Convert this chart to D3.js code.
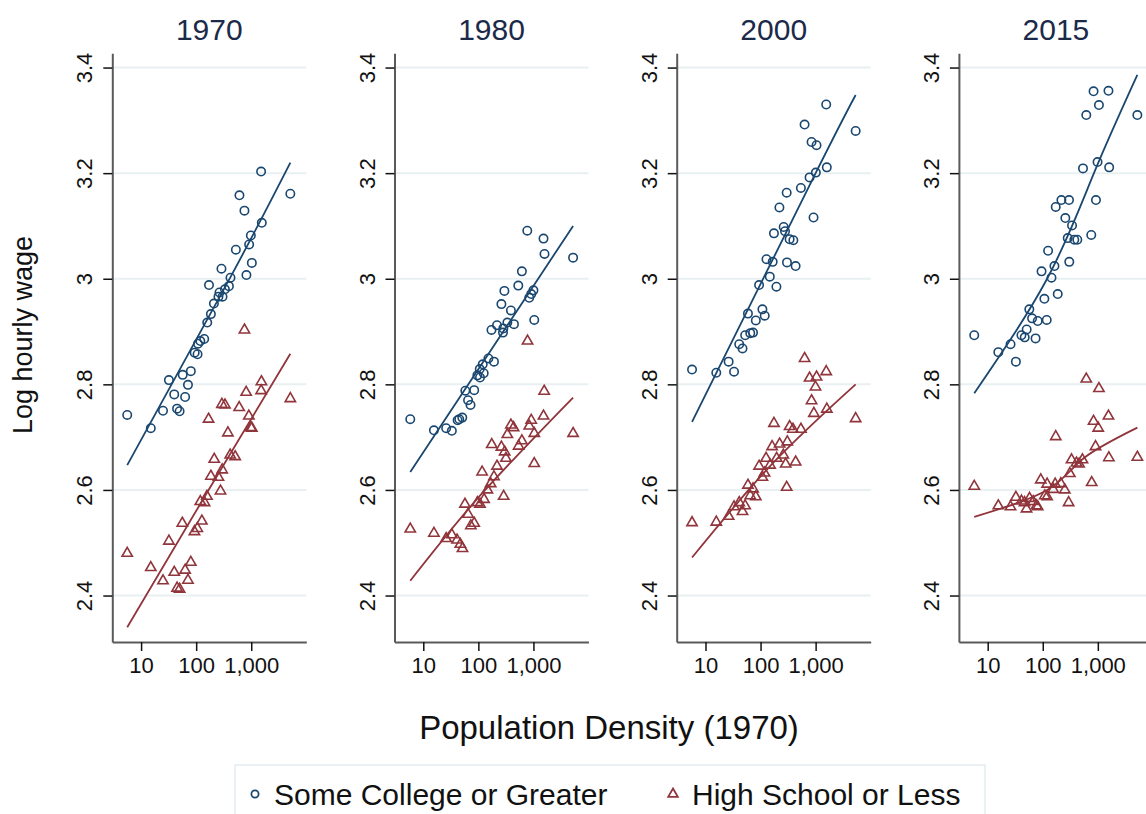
<!DOCTYPE html>
<html>
<head>
<meta charset="utf-8">
<script src="https://cdn.jsdelivr.net/npm/d3@7"></script>
<style>
  body { margin: 0; background: #fff; }
  svg { display: block; }
  text { font-family: "Liberation Sans", Arial, sans-serif; }
</style>
</head>
<body>
<svg id="chart" width="1146" height="814"></svg>
<script>
// Panel years
const years = ["1970", "1980", "2000", "2015"];

// [population density 1970, log hourly wage]
const college1970 = [[1511,3.203],[5130,3.161],[611,3.158],[753,3.129],[1556,3.106],[984,3.082],[916,3.065],[526,3.055],[1026,3.030],[818,3.007],[288,3.019],[420,3.002],[393,2.986],[171,2.988],[333,2.980],[265,2.974],[301,2.966],[254,2.966],[210,2.953],[185,2.933],[159,2.917],[140,2.886],[119,2.882],[108,2.877],[94,2.860],[106,2.857],[80,2.825],[57,2.818],[32,2.808],[71,2.799],[40,2.781],[63,2.776],[5.6,2.742],[25,2.750],[45,2.754],[50,2.749],[15,2.717]];
const hs1970 = [[1530,2.805],[809,2.785],[1511,2.788],[5130,2.773],[293,2.762],[333,2.761],[604,2.756],[168,2.734],[905,2.740],[753,2.903],[984,2.718],[1026,2.717],[377,2.708],[415,2.666],[511,2.663],[213,2.658],[297,2.638],[185,2.626],[254,2.624],[277,2.598],[157,2.588],[119,2.578],[142,2.576],[127,2.541],[56,2.537],[105,2.527],[93,2.521],[32,2.503],[5.6,2.480],[15,2.453],[80,2.463],[40,2.444],[63,2.448],[25,2.428],[71,2.429],[45,2.414],[50,2.412]];

const college1980 = [[773,3.091],[1524,3.076],[1589,3.047],[5250,3.040],[617,3.014],[531,2.987],[297,2.977],[1000,2.978],[912,2.971],[839,2.964],[262,2.952],[390,2.940],[336,2.917],[443,2.914],[218,2.912],[1035,2.922],[284,2.906],[280,2.898],[173,2.903],[152,2.849],[192,2.843],[120,2.838],[106,2.829],[125,2.821],[96,2.817],[107,2.813],[58,2.788],[84,2.789],[65,2.770],[72,2.761],[51,2.737],[45,2.734],[42,2.732],[5.8,2.734],[15.6,2.713],[26,2.717],[33,2.712]];
const hs1980 = [[782,2.882],[1567,2.787],[1524,2.740],[912,2.732],[839,2.721],[5250,2.707],[390,2.723],[436,2.718],[336,2.705],[1035,2.707],[617,2.693],[538,2.683],[175,2.686],[262,2.681],[300,2.672],[317,2.660],[1035,2.650],[218,2.645],[117,2.634],[192,2.625],[167,2.612],[146,2.600],[288,2.588],[127,2.582],[96,2.576],[107,2.573],[57,2.573],[65,2.554],[84,2.537],[73,2.532],[5.8,2.526],[15.6,2.518],[26,2.508],[33,2.515],[41,2.505],[47,2.497],[51.5,2.489]];

const college2000 = [[1556,3.330],[5330,3.280],[630,3.292],[843,3.259],[1038,3.253],[1596,3.211],[1009,3.201],[776,3.192],[540,3.172],[298,3.163],[220,3.135],[916,3.116],[263,3.098],[278,3.090],[175,3.086],[337,3.075],[394,3.073],[128,3.037],[166,3.032],[302,3.031],[433,3.024],[147,3.004],[94,2.988],[194,2.985],[59,2.934],[108,2.942],[119,2.930],[82,2.921],[73,2.898],[65,2.897],[52.5,2.893],[41,2.876],[47,2.868],[5.7,2.828],[15.7,2.822],[26.3,2.843],[33,2.824]];
const hs2000 = [[630,2.849],[1556,2.824],[776,2.812],[1038,2.814],[995,2.795],[843,2.769],[929,2.745],[1596,2.753],[5330,2.735],[175,2.726],[337,2.720],[387,2.715],[540,2.715],[306,2.691],[222,2.687],[162,2.682],[259,2.666],[126,2.660],[196,2.660],[433,2.653],[286,2.649],[94,2.645],[149,2.647],[118,2.632],[108,2.624],[298,2.605],[59,2.609],[73,2.602],[65,2.589],[82,2.587],[41,2.576],[52.5,2.570],[33,2.568],[47,2.559],[26.3,2.550],[15.7,2.539],[5.7,2.538]];

const college2015 = [[836,3.355],[1560,3.356],[1047,3.329],[617,3.310],[5220,3.310],[988,3.221],[1607,3.211],[538,3.209],[218,3.149],[300,3.149],[172,3.136],[925,3.149],[257,3.115],[340,3.101],[284,3.077],[374,3.074],[424,3.074],[760,3.083],[125,3.053],[163,3.024],[303,3.032],[95,3.014],[144,3.002],[107,2.962],[187,2.971],[57,2.942],[64,2.925],[81,2.920],[118,2.922],[51,2.904],[41,2.893],[5.7,2.893],[74,2.887],[26,2.876],[15.6,2.861],[32.5,2.843],[47,2.889]];
const hs2015 = [[617,2.810],[1047,2.792],[1560,2.740],[836,2.730],[1016,2.717],[172,2.701],[908,2.682],[1585,2.661],[5220,2.662],[333,2.657],[526,2.657],[410,2.651],[457,2.649],[310,2.631],[92,2.619],[774,2.614],[120,2.611],[168,2.611],[213,2.612],[155,2.601],[251,2.600],[109,2.589],[120,2.587],[32.5,2.586],[57.5,2.584],[41,2.579],[67,2.578],[46.7,2.576],[295,2.576],[5.7,2.607],[15.6,2.570],[26,2.568],[77,2.570],[81,2.568],[50.7,2.564]];

// fitted wage curves: [density, fitted log hourly wage]
const fitCollege1970 = [[5.6, 2.647], [420, 3.003], [5130, 3.220]];
const fitHs1970 = [[5.6, 2.340], [168, 2.600], [5130, 2.858]];
const fitCollege1980 = [[5.8, 2.634], [1220, 3.000], [5250, 3.100]];
const fitHs1980 = [[5.8, 2.428], [109, 2.590], [5250, 2.775]];
const fitCollege2000 = [[5.7, 2.729], [1000, 3.200], [5330, 3.348]];
const fitHs2000 = [[5.7, 2.472], [158, 2.648], [5330, 2.800]];
const fitCollege2015 = [[5.7, 2.783], [120, 3.000], [850, 3.200], [5220, 3.386]];
const fitHs2015 = [[5.7, 2.549], [120, 2.600], [553, 2.660], [5220, 2.718]];

const yTicks = [2.4, 2.6, 2.8, 3, 3.2, 3.4];
const xTicks = [10, 100, 1000];
const seriesNames = ["Some College or Greater", "High School or Less"];
const yTitle = "Log hourly wage";
const xTitle = "Population Density (1970)";

const collegeSeries = [college1970, college1980, college2000, college2015];
const hsSeries = [hs1970, hs1980, hs2000, hs2015];
const collegeFits = [fitCollege1970, fitCollege1980, fitCollege2000, fitCollege2015];
const hsFits = [fitHs1970, fitHs1980, fitHs2000, fitHs2015];

// ---- layout / style ----
const NAVY = "#1a476f", MAROON = "#90353b";
const GRID = "#e8f0f2", AXIS = "#5a5a5a";
const panelLeft = 112.3, panelStep = 282.2, plotW = 194;

const svg = d3.select("#chart");
svg.append("rect").attr("width", 1146).attr("height", 814).attr("fill", "#fff");

const x = d3.scaleLog().domain([3, 10000]).range([0, plotW]);
const y = d3.scaleLinear().domain([2.312, 3.427]).range([642, 53.3]);

const line = d3.line().x(d => x(d[0])).y(d => y(d[1])).curve(d3.curveNatural);
const tri = d3.symbol().type(d3.symbolTriangle).size(46);

years.forEach((yr, i) => {
  const g = svg.append("g").attr("transform", `translate(${panelLeft + i * panelStep},0)`);

  // horizontal grid
  g.append("g").selectAll("line").data(yTicks).join("line")
    .attr("x1", 0).attr("x2", plotW)
    .attr("y1", d => y(d)).attr("y2", d => y(d))
    .attr("stroke", GRID).attr("stroke-width", 2);

  // y axis
  const ya = g.append("g").call(d3.axisLeft(y).tickValues(yTicks).tickSize(9).tickSizeOuter(0)
    .tickFormat(d3.format("~g")));
  ya.select(".domain").attr("stroke", AXIS).attr("stroke-width", 2);
  ya.selectAll(".tick line").attr("stroke", "#111").attr("stroke-width", 1.5);
  ya.selectAll(".tick text")
    .attr("transform", "rotate(-90)").attr("x", 0).attr("y", -20).attr("dy", 0)
    .attr("text-anchor", "middle").attr("fill", "#111")
    .style("font-size", "22px").style("font-family", "'Liberation Sans', Arial, sans-serif");

  // x axis
  const xa = g.append("g").attr("transform", "translate(0,642)")
    .call(d3.axisBottom(x).tickValues(xTicks).tickSize(9).tickSizeOuter(0).tickFormat(d3.format(",")));
  xa.select(".domain").attr("stroke", AXIS).attr("stroke-width", 2);
  xa.selectAll(".tick line").attr("stroke", "#111").attr("stroke-width", 1.5);
  xa.selectAll(".tick text").attr("y", 31).attr("dy", 0).attr("fill", "#111")
    .style("font-size", "22px").style("font-family", "'Liberation Sans', Arial, sans-serif");

  // markers
  g.append("g").selectAll("circle").data(collegeSeries[i]).join("circle")
    .attr("cx", d => x(d[0])).attr("cy", d => y(d[1])).attr("r", 4.2)
    .attr("fill", "none").attr("stroke", NAVY).attr("stroke-width", 1.6);
  g.append("g").selectAll("path").data(hsSeries[i]).join("path")
    .attr("d", tri).attr("transform", d => `translate(${x(d[0])},${y(d[1])})`)
    .attr("fill", "none").attr("stroke", MAROON).attr("stroke-width", 1.6);

  // fitted curves
  g.append("path").datum(collegeFits[i]).attr("d", line)
    .attr("fill", "none").attr("stroke", NAVY).attr("stroke-width", 1.8);
  g.append("path").datum(hsFits[i]).attr("d", line)
    .attr("fill", "none").attr("stroke", MAROON).attr("stroke-width", 1.8);

  // panel title
  g.append("text").attr("x", plotW / 2).attr("y", 40).attr("text-anchor", "middle")
    .attr("fill", "#1c2a4a").style("font-size", "30px").text(yr);
});

// axis titles
svg.append("text").attr("transform", "translate(32,335) rotate(-90)")
  .attr("text-anchor", "middle").attr("fill", "#111").style("font-size", "27px").text(yTitle);
svg.append("text").attr("x", 609).attr("y", 739).attr("text-anchor", "middle")
  .attr("fill", "#111").style("font-size", "33px").text(xTitle);

// legend
const lg = svg.append("g");
lg.append("rect").attr("x", 235).attr("y", 765).attr("width", 750).attr("height", 60)
  .attr("fill", "#fff").attr("stroke", "#e3ecef").attr("stroke-width", 1.5);
lg.append("circle").attr("cx", 255).attr("cy", 794).attr("r", 3.6)
  .attr("fill", "none").attr("stroke", NAVY).attr("stroke-width", 1.8);
lg.append("text").attr("x", 274).attr("y", 805).attr("fill", "#111")
  .style("font-size", "30px").text(seriesNames[0]);
lg.append("path").attr("d", d3.symbol().type(d3.symbolTriangle).size(40))
  .attr("transform", "translate(673,794)")
  .attr("fill", "none").attr("stroke", MAROON).attr("stroke-width", 1.8);
lg.append("text").attr("x", 692).attr("y", 805).attr("fill", "#111")
  .style("font-size", "30px").text(seriesNames[1]);
</script>
</body>
</html>
